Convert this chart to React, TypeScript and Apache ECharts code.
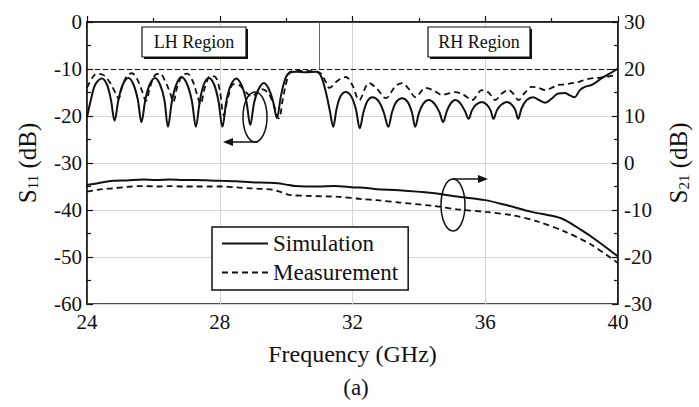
import React, { useEffect, useRef } from 'react';
import * as echarts from 'echarts';

const FONT = 'Liberation Serif';

// X axis (GHz)
const xMin = 24;
const xMax = 40;
const xStep = 4;
// Left axis S11 (dB)
const s11Min = -60;
const s11Max = 0;
// Right axis S21 (dB)
const s21Min = -30;
const s21Max = 30;

const seriesNames = ['Simulation', 'Measurement'];

// S11 simulation [GHz, dB]
const s11Sim: [number, number][] = [
  [24.0, -20.3], [24.12, -16.5], [24.25, -13.3], [24.45, -12.0], [24.6, -13.3], [24.72, -16.5],
  [24.83, -21.0], [24.95, -16.5], [25.08, -13.3], [25.25, -11.9], [25.4, -13.3], [25.53, -16.5],
  [25.64, -21.3], [25.76, -16.5], [25.89, -13.3], [26.05, -11.9], [26.2, -13.3], [26.33, -16.5],
  [26.44, -22.3], [26.56, -16.8], [26.69, -13.3], [26.85, -11.7], [27.02, -13.3], [27.16, -16.8],
  [27.28, -22.3], [27.4, -16.8], [27.52, -13.3], [27.67, -11.9], [27.83, -13.3], [27.96, -16.8],
  [28.08, -22.3], [28.2, -16.8], [28.33, -13.5], [28.5, -12.0], [28.66, -13.5], [28.8, -16.8],
  [28.92, -21.9], [29.04, -17.0], [29.17, -14.3], [29.33, -13.0], [29.48, -14.3], [29.61, -17.0],
  [29.72, -20.4], [29.85, -15.5], [29.98, -12.0], [30.1, -10.8], [30.3, -10.6], [30.6, -10.7],
  [30.9, -10.6], [31.05, -11.5], [31.2, -15.0], [31.32, -19.0], [31.42, -22.3],
  [31.52, -18.5], [31.64, -15.8], [31.8, -14.9], [31.96, -15.8], [32.1, -18.5],
  [32.22, -22.6], [32.33, -19.2], [32.45, -16.8], [32.6, -16.0], [32.78, -16.8], [32.94, -19.2],
  [33.08, -22.3], [33.19, -19.2], [33.32, -17.0], [33.5, -16.2], [33.66, -17.0], [33.79, -19.2],
  [33.89, -22.3], [34.0, -19.4], [34.13, -17.4], [34.3, -16.6], [34.47, -17.4], [34.62, -19.2],
  [34.73, -21.3], [34.84, -19.0], [34.96, -17.3], [35.1, -16.6], [35.25, -17.3], [35.39, -19.0],
  [35.5, -20.6], [35.6, -18.8], [35.72, -17.6], [35.9, -17.0], [36.05, -17.6], [36.16, -18.8],
  [36.25, -20.6], [36.35, -18.8], [36.48, -17.6], [36.65, -17.0], [36.8, -17.6], [36.91, -18.8],
  [36.99, -20.6], [37.1, -18.3], [37.25, -16.6], [37.44, -16.0], [37.62, -16.6], [37.8, -17.2],
  [38.0, -16.3], [38.2, -15.2], [38.39, -15.1], [38.55, -15.6], [38.69, -16.0], [38.85, -14.5],
  [39.0, -13.8], [39.2, -13.4], [39.35, -12.8], [39.5, -12.0], [39.75, -11.0], [40.0, -9.9],
];

// S11 measurement [GHz, dB]
const s11Meas: [number, number][] = [
  [24.0, -14.0], [24.15, -12.0], [24.3, -11.0], [24.5, -11.3], [24.7, -13.0], [24.85, -15.0],
  [24.95, -16.3], [25.05, -14.0], [25.2, -11.5], [25.35, -10.9], [25.5, -12.0], [25.65, -14.5],
  [25.78, -16.8], [25.9, -13.8], [26.05, -11.3], [26.2, -11.0], [26.35, -12.5], [26.5, -15.0],
  [26.6, -17.0], [26.72, -13.8], [26.88, -11.3], [27.02, -11.0], [27.18, -12.5], [27.32, -15.5],
  [27.42, -17.5], [27.55, -14.0], [27.72, -11.5], [27.88, -11.8], [28.0, -14.5], [28.12, -19.8],
  [28.25, -16.0], [28.42, -13.2], [28.6, -13.5], [28.8, -15.0], [28.95, -15.8], [29.1, -15.2],
  [29.25, -14.3], [29.45, -15.0], [29.62, -17.5], [29.78, -20.5], [29.9, -16.5], [30.02, -12.5],
  [30.15, -10.5], [30.5, -10.4], [30.9, -10.5], [31.05, -11.0], [31.2, -12.8], [31.3, -14.0],
  [31.55, -12.5], [31.8, -11.7], [32.0, -13.5], [32.2, -16.6], [32.5, -13.0], [32.75, -14.3],
  [33.0, -16.2], [33.3, -13.6], [33.5, -13.0], [33.7, -14.3], [33.9, -16.0], [34.2, -14.0],
  [34.45, -14.6], [34.7, -15.5], [34.9, -15.2], [35.1, -14.9], [35.35, -15.5], [35.6, -16.6],
  [35.9, -14.5], [36.1, -15.0], [36.3, -16.6], [36.5, -15.2], [36.7, -14.5], [36.85, -15.3],
  [37.0, -16.6], [37.2, -15.0], [37.4, -13.8], [37.6, -14.0], [37.8, -14.5], [38.0, -14.0],
  [38.2, -13.4], [38.4, -13.3], [38.6, -13.0], [38.8, -12.8], [39.0, -12.3], [39.2, -12.0],
  [39.4, -11.9], [39.7, -11.6], [40.0, -11.3],
];

// S21 simulation [GHz, dB]
const s21Sim: [number, number][] = [
  [24.0, -4.7], [24.4, -4.2], [24.77, -3.8], [25.2, -3.7], [25.67, -3.5], [26.1, -3.6],
  [26.5, -3.5], [26.9, -3.6], [27.3, -3.6], [27.7, -3.7], [28.05, -3.8], [28.5, -3.9],
  [28.95, -4.1], [29.4, -4.2], [29.75, -4.3], [30.0, -4.6], [30.26, -4.9], [30.6, -5.0],
  [30.95, -5.0], [31.45, -4.9], [32.05, -5.2], [32.43, -5.3], [32.73, -5.6], [33.4, -5.8],
  [34.4, -6.4], [35.2, -7.2], [36.0, -7.9], [36.6, -8.9], [37.4, -10.4], [38.3, -11.8],
  [38.9, -14.3], [39.4, -16.7], [40.0, -19.9],
];

// S21 measurement [GHz, dB]
const s21Meas: [number, number][] = [
  [24.0, -6.1], [24.4, -5.6], [24.77, -5.4], [25.2, -5.1], [25.67, -4.9], [26.1, -5.0],
  [26.5, -4.9], [26.9, -5.0], [27.3, -5.0], [27.7, -5.0], [28.05, -5.0], [28.5, -5.2],
  [28.95, -5.4], [29.3, -5.5], [29.6, -5.7], [29.85, -6.2], [30.1, -6.8], [30.7, -7.0],
  [31.6, -7.2], [32.3, -7.7], [32.73, -7.9], [33.4, -8.4], [34.4, -9.1], [35.2, -9.9],
  [36.0, -10.4], [36.8, -11.1], [37.6, -12.5], [38.4, -14.6], [39.2, -17.4], [40.0, -21.3],
];

const refLevel = -10;
const boundaryFreq = 31;

export default function App() {
  const ref = useRef<HTMLDivElement>(null);
  useEffect(() => {
    const chart = echarts.init(ref.current!, null, { renderer: 'svg' });
    const black = '#111';
    const axisCommon = {
      axisLine: { show: true, lineStyle: { color: black, width: 1.5 } },
      axisTick: { show: true, inside: true, length: 6, lineStyle: { color: black, width: 1.2 } },
      minorTick: { show: true, splitNumber: 2, length: 4, lineStyle: { color: black, width: 1.2 } },
      axisLabel: { fontFamily: FONT, fontSize: 21, color: black },
    };
    const titleRich = {
      s: { fontFamily: FONT, fontSize: 25, color: black },
      sub: { fontFamily: FONT, fontSize: 15, color: black, verticalAlign: 'bottom' },
    };
    const solid = { color: black, width: 2 };
    const dashed = { color: black, width: 1.8, type: [6, 4] as any };
    chart.setOption({
      animation: false,
      backgroundColor: '#fff',
      textStyle: { fontFamily: FONT },
      grid: {
        left: 87, top: 22, width: 537, height: 282,
        show: true, borderColor: black, borderWidth: 1.5, backgroundColor: 'transparent',
      },
      legend: {
        data: seriesNames,
        orient: 'vertical',
        left: 212, top: 227,
        itemWidth: 46, itemHeight: 14, itemGap: 6, itemTextGap: 5,
        padding: [5, 10, 6, 9],
        itemStyle: { opacity: 0 },
        backgroundColor: '#fff', borderColor: black, borderWidth: 1.5, borderRadius: 0,
        textStyle: { fontFamily: FONT, fontSize: 23, color: black },
        selectedMode: false,
      },
      xAxis: {
        type: 'value', min: xMin, max: xMax, interval: xStep,
        ...axisCommon,
        axisLabel: { ...axisCommon.axisLabel, margin: 7 },
        splitLine: { show: true, lineStyle: { color: '#d4d4d4', width: 1 } },
        name: 'Frequency (GHz)', nameLocation: 'middle', nameGap: 38,
        nameTextStyle: { fontFamily: FONT, fontSize: 24, color: black },
      },
      yAxis: [
        {
          type: 'value', min: s11Min, max: s11Max, interval: 10, position: 'left',
          ...axisCommon,
          axisLabel: { ...axisCommon.axisLabel, margin: 5 },
          splitLine: { show: true, lineStyle: { color: '#d4d4d4', width: 1 } },
          name: '{s|S}{sub|11}{s| (dB)}', nameLocation: 'middle', nameGap: 47, nameRotate: 90,
          nameTextStyle: { fontFamily: FONT, fontSize: 25, color: black, rich: titleRich },
        },
        {
          type: 'value', min: s21Min, max: s21Max, interval: 10, position: 'right',
          ...axisCommon,
          axisLabel: { ...axisCommon.axisLabel, margin: 6 },
          splitLine: { show: false },
          name: '{s|S}{sub|21}{s| (dB)}', nameLocation: 'middle', nameGap: 48, nameRotate: 90,
          nameTextStyle: { fontFamily: FONT, fontSize: 25, color: black, rich: titleRich },
        },
      ],
      series: [
        {
          name: seriesNames[0], type: 'line', yAxisIndex: 0, data: s11Sim,
          symbol: 'none', smooth: 0.35, lineStyle: solid, itemStyle: { color: black }, z: 3,
          markLine: {
            silent: true, symbol: ['none', 'none'], label: { show: false },
            lineStyle: { color: black, width: 1.2, type: [5, 3] },
            data: [
              { yAxis: refLevel },
              [
                { coord: [boundaryFreq, s11Max], lineStyle: { color: '#666', width: 1, type: 'solid' } },
                { coord: [boundaryFreq, refLevel] },
              ],
            ],
          },
        },
        {
          name: seriesNames[1], type: 'line', yAxisIndex: 0, data: s11Meas,
          symbol: 'none', smooth: 0.35, lineStyle: dashed, itemStyle: { color: black }, z: 3,
        },
        {
          name: seriesNames[0], type: 'line', yAxisIndex: 1, data: s21Sim,
          symbol: 'none', smooth: 0.3, lineStyle: solid, itemStyle: { color: black }, z: 3,
        },
        {
          name: seriesNames[1], type: 'line', yAxisIndex: 1, data: s21Meas,
          symbol: 'none', smooth: 0.3, lineStyle: dashed, itemStyle: { color: black }, z: 3,
        },
      ],
      graphic: [
        // LH region box
        { type: 'rect', shape: { x: 144, y: 29, width: 104, height: 30 }, style: { fill: black }, z: 10 },
        { type: 'rect', shape: { x: 142, y: 27, width: 104, height: 30 }, style: { fill: '#fff', stroke: black, lineWidth: 1.2 }, z: 11 },
        { type: 'text', x: 194, y: 42, style: { text: 'LH Region', fontFamily: FONT, fontSize: 18, fill: black, align: 'center', verticalAlign: 'middle' }, z: 12 },
        // RH region box
        { type: 'rect', shape: { x: 430, y: 29, width: 102, height: 30 }, style: { fill: black }, z: 10 },
        { type: 'rect', shape: { x: 428, y: 27, width: 102, height: 30 }, style: { fill: '#fff', stroke: black, lineWidth: 1.2 }, z: 11 },
        { type: 'text', x: 479, y: 42, style: { text: 'RH Region', fontFamily: FONT, fontSize: 18, fill: black, align: 'center', verticalAlign: 'middle' }, z: 12 },
        // S11 annotation
        { type: 'ellipse', shape: { cx: 255, cy: 117, rx: 12, ry: 25 }, style: { fill: 'none', stroke: black, lineWidth: 1.5 }, z: 12 },
        { type: 'line', shape: { x1: 258, y1: 142, x2: 230, y2: 142 }, style: { stroke: black, lineWidth: 1.5 }, z: 12 },
        { type: 'polygon', shape: { points: [[223, 142], [233, 138], [233, 146]] }, style: { fill: black }, z: 12 },
        // S21 annotation
        { type: 'ellipse', shape: { cx: 453, cy: 205, rx: 12, ry: 26 }, style: { fill: 'none', stroke: black, lineWidth: 1.5 }, z: 12 },
        { type: 'line', shape: { x1: 453, y1: 179, x2: 481, y2: 179 }, style: { stroke: black, lineWidth: 1.5 }, z: 12 },
        { type: 'polygon', shape: { points: [[488, 179], [478, 175], [478, 183]] }, style: { fill: black }, z: 12 },
        // caption
        { type: 'text', x: 356, y: 387, style: { text: '(a)', fontFamily: FONT, fontSize: 23, fill: black, align: 'center', verticalAlign: 'middle' }, z: 12 },
      ],
    });
    return () => chart.dispose();
  }, []);
  return (
    <div
      ref={ref}
      style={{ position: 'absolute', left: 0, top: 0, width: 699, height: 407, background: '#fff' }}
    />
  );
}
